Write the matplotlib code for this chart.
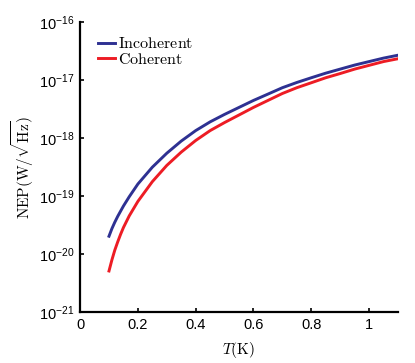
import numpy as np
import matplotlib
matplotlib.use("Agg")
import matplotlib.pyplot as plt

plt.rcParams['font.family'] = ['Liberation Sans', 'DejaVu Sans']
plt.rcParams['mathtext.fontset'] = 'custom'

# temperature (K)
T = [0.10, 0.11, 0.12, 0.13, 0.14, 0.15, 0.17, 0.20, 0.25, 0.30, 0.35, 0.40, 0.45,
     0.50, 0.55, 0.60, 0.65, 0.70, 0.75, 0.80, 0.85, 0.90, 0.95, 1.00, 1.05, 1.10]
# NEP (W/sqrt(Hz))
nep_incoherent = [2.04e-20, 2.75e-20, 3.55e-20, 4.47e-20, 5.50e-20, 6.76e-20, 9.77e-20,
                  1.62e-19, 3.16e-19, 5.50e-19, 8.91e-19, 1.35e-18, 1.91e-18,
                  2.57e-18, 3.39e-18, 4.47e-18, 5.75e-18, 7.41e-18, 9.12e-18,
                  1.10e-17, 1.32e-17, 1.55e-17, 1.82e-17, 2.09e-17, 2.40e-17, 2.69e-17]
nep_coherent = [5.13e-21, 7.94e-21, 1.17e-20, 1.62e-20, 2.19e-20, 2.88e-20, 4.57e-20,
                8.13e-20, 1.78e-19, 3.39e-19, 5.75e-19, 9.12e-19, 1.35e-18,
                1.86e-18, 2.51e-18, 3.39e-18, 4.47e-18, 5.89e-18, 7.41e-18,
                9.02e-18, 1.10e-17, 1.30e-17, 1.55e-17, 1.80e-17, 2.09e-17, 2.34e-17]

x_ticks = [0, 0.2, 0.4, 0.6, 0.8, 1.0]
x_ticklabels = ['0', '0.2', '0.4', '0.6', '0.8', '1']

fig = plt.figure(figsize=(4.15, 3.63), dpi=100)
ax = fig.add_axes([0.193, 0.140, 0.766, 0.799])

ax.plot(T, nep_incoherent, color='#2E3192', lw=2.1, label=r'$\mathrm{Incoherent}$')
ax.plot(T, nep_coherent, color='#ED1C24', lw=2.1, label=r'$\mathrm{Coherent}$')

ax.set_yscale('log')
ax.set_xlim(0, 1.1)
ax.set_ylim(1e-21, 1e-16)
ax.set_xticks(x_ticks)
ax.set_xticklabels(x_ticklabels)
ax.set_yticks([1e-21, 1e-20, 1e-19, 1e-18, 1e-17, 1e-16])
ax.yaxis.set_minor_locator(matplotlib.ticker.NullLocator())

for s in ['top', 'right']:
    ax.spines[s].set_visible(False)
for s in ['left', 'bottom']:
    ax.spines[s].set_linewidth(1.6)
ax.tick_params(direction='in', length=3, width=1.2, labelsize=10.5, pad=4)

ax.set_xlabel(r'$T(\mathrm{K})$', fontsize=11, math_fontfamily='cm', labelpad=6)
ax.set_ylabel(r'$\mathrm{NEP}(\mathrm{W}/\sqrt{\mathrm{Hz}})$', fontsize=11,
              math_fontfamily='cm', labelpad=2)

leg = ax.legend(loc='upper left', bbox_to_anchor=(0.02, 0.99), frameon=False,
                fontsize=11.5, handlelength=1.1, handletextpad=0.2,
                labelspacing=0.05, borderaxespad=0.3)
for t in leg.get_texts():
    t.set_math_fontfamily('cm')

fig.savefig('out.png', dpi=100)
